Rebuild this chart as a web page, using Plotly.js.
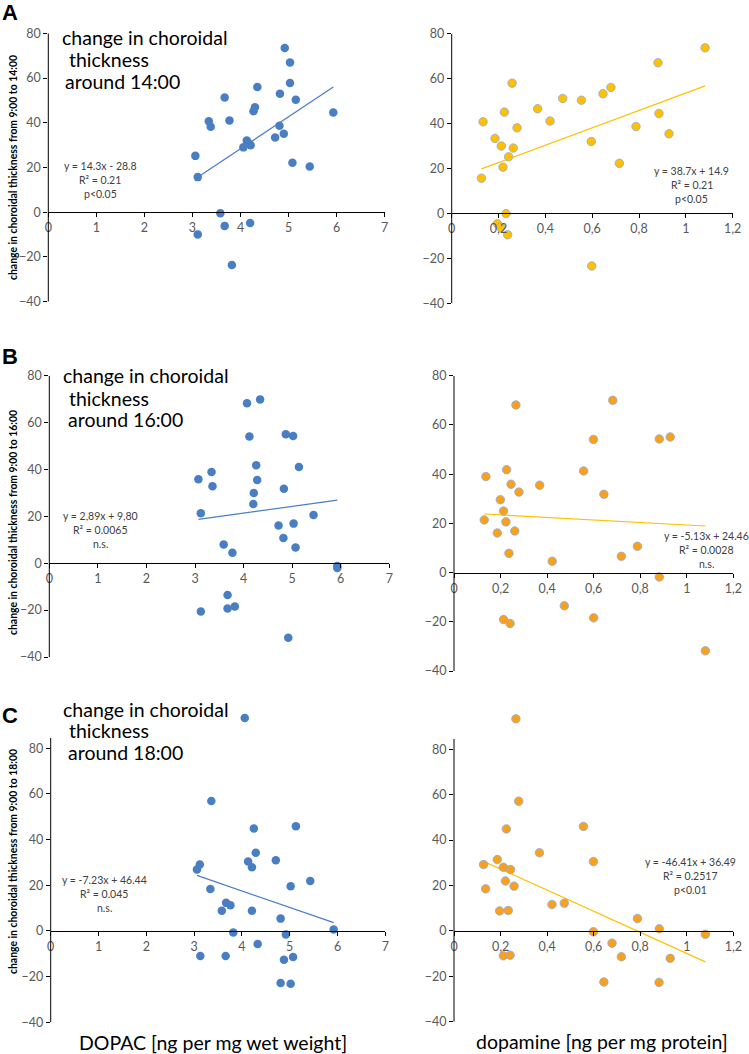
<!DOCTYPE html>
<html>
<head>
<meta charset="utf-8">
<script src="https://cdn.plot.ly/plotly-3.0.1.min.js"></script>
<style>html,body{margin:0;padding:0;background:#fff;}#chart{width:749px;height:1054px;}</style>
</head>
<body>
<div id="chart"></div>
<script>
// ---------- DATA ----------
const A_dopac_x = [4.92,5.03,5.03,4.35,3.67,4.82,5.15,4.30,4.27,5.93,3.34,3.38,3.77,4.81,4.90,4.72,4.13,4.16,4.06,4.21,3.06,3.11,5.08,5.44,3.58,3.67,4.20,3.11,3.82];
const A_dopac_y = [73.4,66.9,57.8,56.0,51.3,53.0,50.3,46.9,45.2,44.6,40.7,38.2,41.0,38.7,35.1,33.4,32.1,30.9,29.0,30.0,25.2,15.7,22.1,20.4,-0.4,-6.1,-4.8,-9.9,-23.6];
const A_da_x = [1.082,0.881,0.258,0.680,0.646,0.474,0.554,0.367,0.225,0.885,0.134,0.420,0.279,0.787,0.928,0.185,0.596,0.212,0.263,0.243,0.219,0.716,0.127,0.232,0.195,0.209,0.239,0.598];
const A_da_y = [73.7,67.1,58.0,56.1,53.3,51.2,50.4,46.6,45.1,44.5,40.8,41.1,38.1,38.7,35.5,33.4,32.0,30.0,29.1,25.2,20.6,22.3,15.7,-0.1,-4.6,-6.2,-9.5,-23.4];

const B_dopac_x = [4.34,4.07,4.12,4.87,5.02,4.26,5.14,3.34,3.07,4.28,3.36,4.83,4.21,4.20,3.12,5.44,4.72,5.03,4.82,3.59,3.77,5.07,5.93,5.93,3.67,3.67,3.82,3.12,4.92];
const B_dopac_y = [69.9,68.2,54.1,55.0,54.3,41.8,41.1,38.9,35.8,35.5,32.8,31.8,30.0,25.3,21.3,20.6,16.1,16.9,10.8,8.0,4.5,6.7,-1.2,-2.0,-13.6,-19.3,-18.5,-20.6,-31.8];
const B_da_x = [0.682,0.266,0.599,0.882,0.929,0.226,0.557,0.137,0.245,0.368,0.279,0.644,0.199,0.213,0.130,0.223,0.186,0.261,0.236,0.422,0.719,0.788,0.882,0.474,0.213,0.241,0.600,1.080];
const B_da_y = [70.0,68.1,54.1,54.3,55.1,41.8,41.3,39.0,35.9,35.5,32.7,31.8,29.6,25.0,21.4,20.6,16.1,16.9,7.8,4.6,6.6,10.7,-1.8,-13.5,-19.1,-20.7,-18.4,-31.8];

const C_dopac_x = [4.06,3.36,5.13,4.25,4.29,4.13,4.71,4.21,3.12,3.06,5.43,5.02,3.34,3.67,3.76,3.58,4.21,4.81,5.92,3.82,4.92,4.33,3.13,3.66,5.07,4.88,4.81,5.02];
const C_dopac_y = [93.3,56.9,45.9,44.9,34.2,30.4,31.0,27.9,29.1,26.9,21.9,19.6,18.4,12.3,11.3,8.9,8.8,5.4,0.6,-0.7,-1.5,-5.7,-11.0,-11.0,-11.4,-12.6,-22.8,-23.1];
const C_da_x = [0.266,0.278,0.556,0.225,0.367,0.599,0.186,0.127,0.212,0.243,0.221,0.258,0.136,0.421,0.474,0.196,0.233,0.788,0.882,0.599,1.080,0.679,0.212,0.241,0.719,0.929,0.644,0.881];
const C_da_y = [93.4,57.1,46.0,44.9,34.4,30.5,31.4,29.2,28.0,27.0,22.0,19.7,18.5,11.6,12.2,8.8,9.0,5.4,0.9,-0.4,-1.5,-5.4,-11.0,-10.7,-11.4,-12.1,-22.5,-22.7];

// trendline coefficients [slope, intercept]
const A_dopac_fit = [14.3, -28.8];
const A_da_fit = [38.7, 14.9];
const B_dopac_fit = [2.89, 9.80];
const B_da_fit = [-5.13, 24.46];
const C_dopac_fit = [-7.23, 46.44];
const C_da_fit = [-46.41, 36.49];

// texts
const panelLetters = ["A", "B", "C"];
const panelTimes = ["14:00", "16:00", "18:00"];
const yTitles = ["change in choroidal thickness from 9:00 to 14:00",
                 "change in choroidal thickness from 9:00 to 16:00",
                 "change in choroidal thickness from 9:00 to 18:00"];
const eqLeft = [["y = 14.3x - 28.8", "R² = 0.21", "p<0.05"],
                ["y = 2,89x + 9,80", "R² = 0.0065", "n.s."],
                ["y = -7.23x + 46.44", "R² = 0.045", "n.s."]];
const eqRight = [["y = 38.7x + 14.9", "R² = 0.21", "p<0.05"],
                 ["y = -5.13x + 24.46", "R² = 0.0028", "n.s."],
                 ["y = -46.41x + 36.49", "R² = 0.2517", "p<0.01"]];
const xTitleLeft = "DOPAC [ng per mg wet weight]";
const xTitleRight = "dopamine [ng per mg protein]";
const rightXTicks = [0, 0.2, 0.4, 0.6, 0.8, 1, 1.2];
const rightXTickText = ["0", "0,2", "0,4", "0,6", "0,8", "1", "1,2"];
const leftXTicks = [0, 1, 2, 3, 4, 5, 6, 7];
const yTicks = [-40, -20, 0, 20, 40, 60, 80];

// ---------- LAYOUT GEOMETRY (pixels) ----------
const W = 749, H = 1054;
const BLUE = "#4A7EC2", GOLD = "#FFC000", ORANGE = "#F9A11B", TREND_Y = "#FFC000";
const FONT = "Lato, 'Open Sans', sans-serif";

// px: x pixel span of [0, xmax]; py: pixel rows of [axisTop, -40]
const panels = [
  {xs: A_dopac_x, ys: A_dopac_y, fit: A_dopac_fit, px: [48.3, 384.7], py: [33.3, 301.7], ytop: 80, xmax: 7, color: BLUE, trend: BLUE, right: false},
  {xs: A_da_x, ys: A_da_y, fit: A_da_fit, px: [451.7, 732.7], py: [33.7, 303.3], ytop: 80, xmax: 1.2, color: GOLD, trend: TREND_Y, right: true},
  {xs: B_dopac_x, ys: B_dopac_y, fit: B_dopac_fit, px: [49.3, 389.3], py: [375.7, 657], ytop: 80, xmax: 7, color: BLUE, trend: BLUE, right: false},
  {xs: B_da_x, ys: B_da_y, fit: B_da_fit, px: [454, 733.3], py: [375.7, 671], ytop: 80, xmax: 1.2, color: ORANGE, trend: TREND_Y, right: true},
  {xs: C_dopac_x, ys: C_dopac_y, fit: C_dopac_fit, px: [50.7, 385.3], py: [738, 1022.3], ytop: 84.5, xmax: 7, color: BLUE, trend: BLUE, right: false},
  {xs: C_da_x, ys: C_da_y, fit: C_da_fit, px: [454, 733.3], py: [739, 1021.7], ytop: 84.5, xmax: 1.2, color: ORANGE, trend: TREND_Y, right: true}
];

const data = [];
const layout = {
  width: W, height: H,
  margin: {l: 0, r: 0, t: 0, b: 0},
  paper_bgcolor: "#fff", plot_bgcolor: "rgba(0,0,0,0)",
  showlegend: false,
  separators: ", ",
  font: {family: FONT, color: "#595959", size: 11},
  annotations: [], shapes: []
};

panels.forEach((p, i) => {
  const n = i + 1;
  const xa = "x" + (n === 1 ? "" : n), ya = "y" + (n === 1 ? "" : n);
  const xk = "xaxis" + (n === 1 ? "" : n), yk = "yaxis" + (n === 1 ? "" : n);
  const ymin = -40;
  // extend range above the drawn axis line so that outliers remain visible
  const ymaxData = Math.max(...p.ys);
  const ymax = Math.max(p.ytop, ymaxData + 3);
  const pxPerUnit = (p.py[1] - p.py[0]) / (p.ytop - ymin);
  const topPx = p.py[0] - (ymax - p.ytop) * pxPerUnit;
  const xd = [p.px[0] / W, p.px[1] / W];
  const yd = [1 - p.py[1] / H, 1 - topPx / H];
  const zeroPos = yd[0] + (0 - ymin) / (ymax - ymin) * (yd[1] - yd[0]);

  layout[xk] = {
    domain: xd, range: [0, p.xmax], anchor: "free", position: zeroPos,
    showline: true, linecolor: "#000", linewidth: 1,
    ticks: "outside", ticklen: 4, tickcolor: "#000",
    tickvals: p.right ? rightXTicks : leftXTicks,
    ticktext: p.right ? rightXTickText : leftXTicks.map(String),
    showgrid: false, zeroline: false,
    tickfont: {family: FONT, size: 12.5, color: "#595959"}
  };
  layout[yk] = {
    domain: yd, range: [ymin, ymax], anchor: xa,
    showline: false,
    ticks: "outside", ticklen: 4, tickcolor: "#000",
    tickvals: yTicks, showgrid: false, zeroline: false,
    tickfont: {family: FONT, size: 12.5, color: "#595959"}
  };
  // vertical axis line from -40 to the axis top
  layout.shapes.push({type: "line", xref: xa + " domain", yref: ya,
    x0: 0, x1: 0, y0: ymin, y1: p.ytop, line: {color: "#000", width: 1}});

  const fx = [Math.min(...p.xs), Math.max(...p.xs)];
  data.push({
    type: "scatter", mode: "lines", xaxis: xa, yaxis: ya,
    x: fx, y: fx.map(v => p.fit[0] * v + p.fit[1]),
    line: {color: p.trend, width: 1.2}, hoverinfo: "skip"
  });
  data.push({
    type: "scatter", mode: "markers", xaxis: xa, yaxis: ya,
    x: p.xs, y: p.ys, cliponaxis: false,
    marker: {color: p.color, size: 8.5,
      line: p.right ? {color: "#8FAADC", width: 0.8} : {color: p.color, width: 0}}
  });
});

function ann(text, xpx, ypx, opts) {
  layout.annotations.push(Object.assign({
    text: text, xref: "paper", yref: "paper", x: xpx / W, y: 1 - ypx / H,
    showarrow: false, xanchor: "center", yanchor: "middle",
    font: {family: FONT, size: 10.5, color: "#404040"}
  }, opts || {}));
}

// panel letters
const letterY = [13, 357, 715];
panelLetters.forEach((L, i) => ann("<b>" + L + "</b>", 10, letterY[i],
  {font: {family: "'Liberation Sans', Arial, sans-serif", size: 22, color: "#000"}}));

// panel titles (three lines each)
const titleLineY = [[37, 60, 81], [375.7, 398.3, 419.3], [709.5, 730.8, 752]];
const titleLineX = [[62, 69, 65.3], [63.3, 69, 67.7], [63.3, 69.3, 67.7]];
panelTimes.forEach((t, i) => {
  const lines = ["change in choroidal", "thickness", "around " + t];
  lines.forEach((s, k) => ann(s, titleLineX[i][k] - 2, titleLineY[i][k],
    {xanchor: "left", font: {family: FONT, size: 19.5, color: "#000"}}));
});

// y axis titles
const yTitleCenter = [168, 523, 862];
yTitles.forEach((t, i) => ann("<b>" + t + "</b>", 13, yTitleCenter[i],
  {textangle: -90, font: {family: FONT, size: 10.4, color: "#000"}}));

// equation texts
const eqL = [[100, 166], [100, 516], [104, 880]];
const eqR = [[691.5, 170.7], [706, 535.7], [690, 861.7]];
eqLeft.forEach((lines, i) => lines.forEach((s, k) => ann(s, eqL[i][0], eqL[i][1] + k * 14)));
eqRight.forEach((lines, i) => lines.forEach((s, k) => ann(s, eqR[i][0], eqR[i][1] + k * 14.3)));

// x axis titles
ann(xTitleLeft, 212.5, 1042, {font: {family: FONT, size: 19.5, color: "#000"}});
ann(xTitleRight, 601.7, 1041, {font: {family: FONT, size: 19.5, color: "#000"}});

Plotly.newPlot("chart", data, layout, {displayModeBar: false, staticPlot: true});
</script>
</body>
</html>
